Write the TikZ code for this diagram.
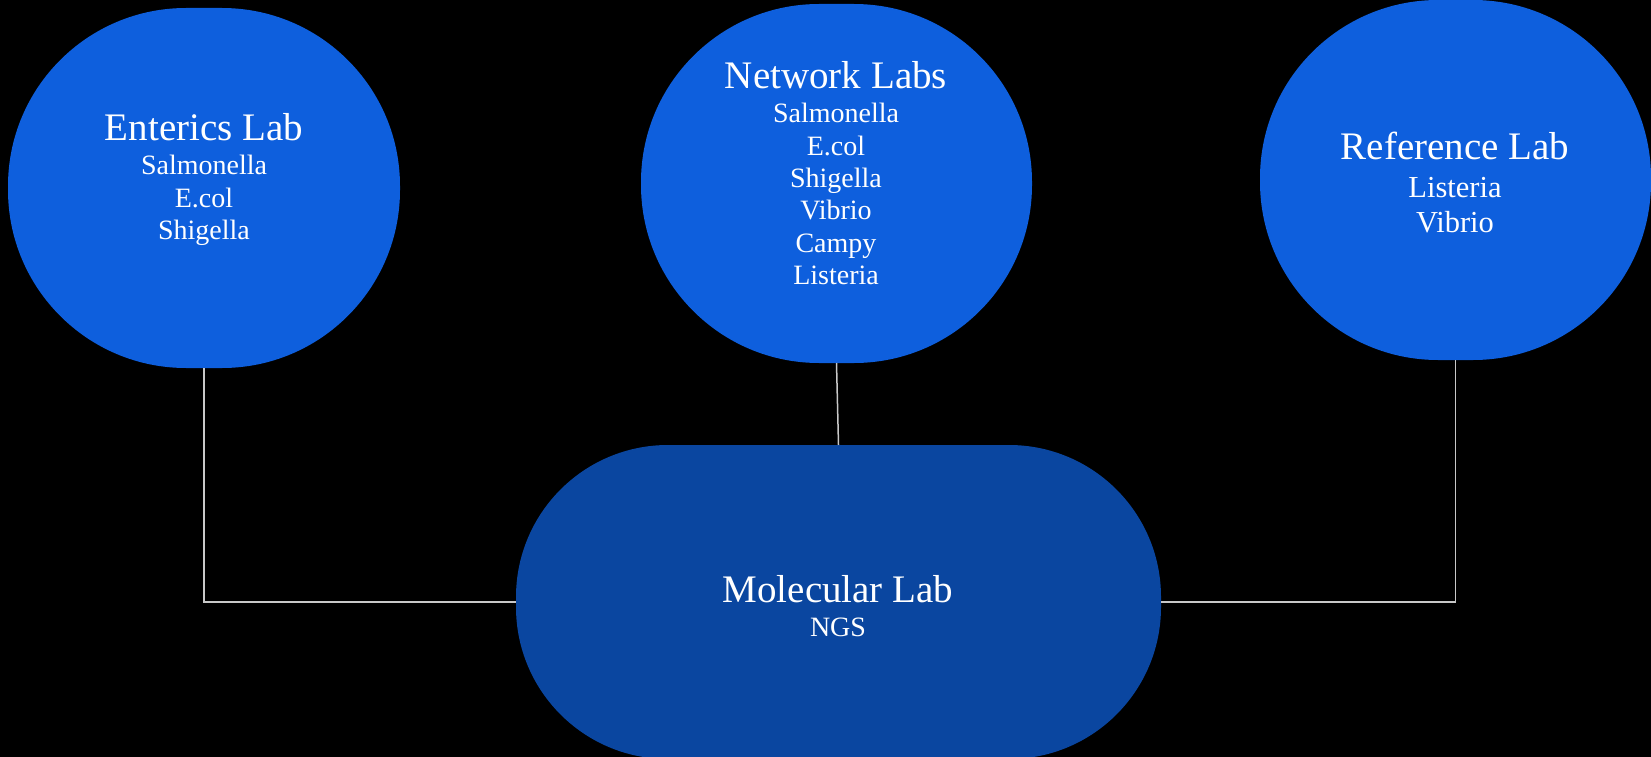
\documentclass[tikz,border=0pt]{standalone}
\usepackage{fontspec}
\setmainfont{Liberation Serif}
\definecolor{labblue}{RGB}{14,95,221}
\definecolor{molblue}{RGB}{10,70,160}
\definecolor{wire}{RGB}{200,200,200}
\newcommand{\linesof}[1]{\begin{tabular}[t]{@{}c@{}}#1\end{tabular}}
\begin{document}
\begin{tikzpicture}[x=1pt,y=-1pt,
  labshape/.style={fill=labblue, draw=none, rectangle, rounded corners=178pt, minimum width=392pt, minimum height=360pt, inner sep=0pt, outer sep=0pt},
  molshape/.style={fill=molblue, draw=none, rectangle, rounded corners=152pt, minimum width=645pt, minimum height=314pt, inner sep=0pt, outer sep=0pt},
  titletext/.style={text=white, anchor=base, inner sep=0pt, font=\fontsize{39}{44}\selectfont},
  bodytext/.style={text=white, anchor=base, inner sep=0pt, font=\fontsize{28}{32.3}\selectfont},
  wireline/.style={draw=wire, line width=1.5pt}]
\fill[black] (0,0) rectangle (1651,757);
\useasboundingbox (0,0) rectangle (1651,757);
% shapes
\node[labshape] (ent) at (204,188) {};
\node[labshape, minimum width=391pt, minimum height=359pt] (net) at (836.5,183.5) {};
\node[labshape, minimum width=391pt] (ref) at (1455.5,180) {};
\node[molshape] (mol) at (838.5,602) {};
% connectors
\draw[wireline] (ent.south) |- (mol.west);
\draw[wireline] (ref.south) |- (mol.east);
\draw[wireline] (net.south) -- (mol.north);
% texts
\node[titletext] (ent-t) at (204,141) {Enterics Lab};
\node[bodytext] (ent-b) at (204,175) {\linesof{Salmonella\\E.col\\Shigella}};
\node[titletext] (net-t) at (836,89) {Network Labs};
\node[bodytext] (net-b) at (836,123) {\linesof{Salmonella\\E.col\\Shigella\\Vibrio\\Campy\\Listeria}};
\node[titletext] (ref-t) at (1455,160) {Reference Lab};
\node[bodytext, font=\fontsize{30.5}{35}\selectfont] (ref-b) at (1455,197) {\linesof{Listeria\\Vibrio}};
\node[titletext] (mol-t) at (838,602.5) {Molecular Lab};
\node[bodytext] (mol-b) at (838,636) {NGS};
\end{tikzpicture}
\end{document}
